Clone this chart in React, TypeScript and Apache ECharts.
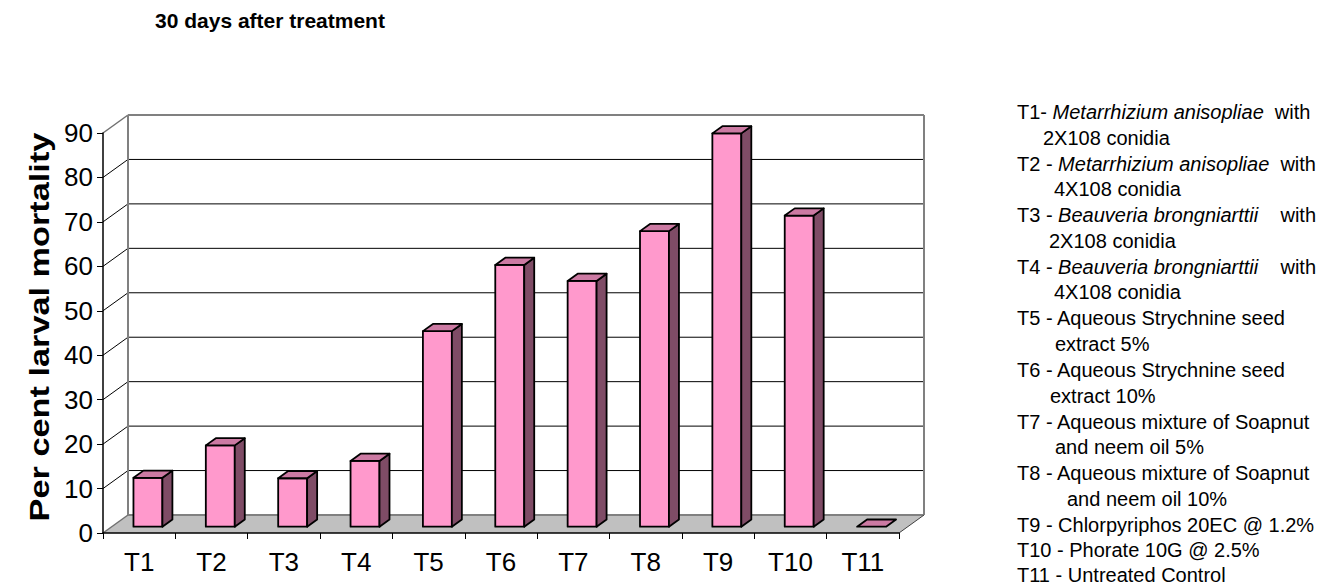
import React, { useEffect, useRef } from "react";
import * as echarts from "echarts";

// Treatments and per cent larval mortality 30 days after treatment
const categories = ["T1", "T2", "T3", "T4", "T5", "T6", "T7", "T8", "T9", "T10", "T11"];
const mortality = [11.0, 18.3, 10.9, 14.8, 44.0, 58.9, 55.3, 66.5, 88.5, 70.0, 0];

const chartTitle = "30 days after treatment";
const yAxisTitle = "Per cent larval mortality";

// Treatment key; {i|...} marks the italic species names
const keyLines = [
  "T1- {i|Metarrhizium anisopliae}  with",
  "2X108 conidia",
  "T2 - {i|Metarrhizium anisopliae}  with",
  "4X108 conidia",
  "T3 - {i|Beauveria brongniarttii}    with",
  "2X108 conidia",
  "T4 - {i|Beauveria brongniarttii}    with",
  "4X108 conidia",
  "T5 - Aqueous Strychnine seed",
  "extract 5%",
  "T6 - Aqueous Strychnine seed",
  "extract 10%",
  "T7 - Aqueous mixture of Soapnut",
  "and neem oil 5%",
  "T8 - Aqueous mixture of Soapnut",
  "and neem oil 10%",
  "T9 - Chlorpyriphos 20EC @ 1.2%",
  "T10 - Phorate 10G @ 2.5%",
  "T11 - Untreated Control",
];

// Layout of the key: left edge and vertical middle of each line
const keyX = [1017, 1043, 1017, 1054, 1017, 1049, 1017, 1054, 1017, 1055, 1017, 1050, 1017, 1055, 1017, 1067, 1017, 1017, 1017];
const keyY = [112, 138, 164, 189, 215, 241, 267, 292, 318, 344, 370, 396, 422, 447, 473, 499, 525, 550, 575];

// Pseudo-3D geometry
const DEPTH_X = 25;
const DEPTH_Y = -18;
const BAR_FRONT = 0.35; // bar front face position along the depth
const BAR_DEPTH = 0.4; // bar thickness along the depth
const BAR_WIDTH = 0.4; // share of the category band

const FONT = "Liberation Sans, Arial, Helvetica, sans-serif";

export default function App() {
  const ref = useRef<HTMLDivElement | null>(null);

  useEffect(() => {
    if (!ref.current) return;
    const chart = echarts.init(ref.current, undefined, { renderer: "svg" });
    const n = categories.length;
    const yMax = 90;
    const yStep = 10;

    const wallItem = (params: any, api: any) => {
      const band = api.size([1, 0])[0];
      const c0 = api.coord([0, 0]);
      const x0 = c0[0] - band / 2;
      const x1 = x0 + band * n;
      const y0 = c0[1];
      const yTop = api.coord([0, yMax])[1];
      const children: any[] = [];
      children.push({
        type: "polygon",
        shape: {
          points: [
            [x0, y0],
            [x1, y0],
            [x1 + DEPTH_X, y0 + DEPTH_Y],
            [x0 + DEPTH_X, y0 + DEPTH_Y],
          ],
        },
        style: { fill: "#c0c0c0", stroke: "none" },
      });
      for (let v = 0; v <= yMax; v += yStep) {
        const y = api.coord([0, v])[1];
        const edge = v === 0 || v === yMax;
        children.push({
          type: "line",
          shape: { x1: x0, y1: y, x2: x0 + DEPTH_X, y2: y + DEPTH_Y },
          style: { stroke: edge ? "#707070" : "#000", lineWidth: edge ? 1.5 : 1 },
        });
        children.push({
          type: "line",
          shape: { x1: x0 + DEPTH_X, y1: y + DEPTH_Y, x2: x1 + DEPTH_X, y2: y + DEPTH_Y },
          style: { stroke: edge ? "#808080" : "#000", lineWidth: edge ? 2 : 1 },
        });
      }
      children.push({
        type: "line",
        shape: { x1: x0 + DEPTH_X, y1: y0 + DEPTH_Y, x2: x0 + DEPTH_X, y2: yTop + DEPTH_Y },
        style: { stroke: "#808080", lineWidth: 2 },
      });
      children.push({
        type: "line",
        shape: { x1: x1 + DEPTH_X, y1: y0 + DEPTH_Y, x2: x1 + DEPTH_X, y2: yTop + DEPTH_Y },
        style: { stroke: "#808080", lineWidth: 2 },
      });
      children.push({
        type: "line",
        shape: { x1: x1, y1: y0, x2: x1 + DEPTH_X, y2: y0 + DEPTH_Y },
        style: { stroke: "#404040", lineWidth: 1 },
      });
      return { type: "group", children };
    };

    const barItem = (params: any, api: any) => {
      const idx = api.value(0);
      const val = api.value(1);
      const band = api.size([1, 0])[0];
      const top = api.coord([idx, val]);
      const base = api.coord([idx, 0]);
      const w = band * BAR_WIDTH;
      const ox = DEPTH_X * BAR_FRONT;
      const oy = DEPTH_Y * BAR_FRONT;
      const bx = DEPTH_X * BAR_DEPTH;
      const by = DEPTH_Y * BAR_DEPTH;
      const l = top[0] - w / 2 + ox;
      const r = l + w;
      const t = top[1] + oy;
      const b = base[1] + oy;
      const stroke = { stroke: "#000", lineWidth: 1.8, lineJoin: "round" };
      const children: any[] = [];
      if (b - t > 0.5) {
        children.push({
          type: "polygon",
          shape: { points: [[l, t], [r, t], [r, b], [l, b]] },
          style: { fill: "#ff99cc", ...stroke },
        });
        children.push({
          type: "polygon",
          shape: { points: [[r, t], [r + bx, t + by], [r + bx, b + by], [r, b]] },
          style: { fill: "#7f4c66", ...stroke },
        });
      }
      children.push({
        type: "polygon",
        shape: { points: [[l, t], [l + bx, t + by], [r + bx, t + by], [r, t]] },
        style: { fill: "#cc7aa3", ...stroke },
      });
      return { type: "group", children };
    };

    const keyGraphics = keyLines.map((line, i) => ({
      type: "text",
      x: keyX[i],
      y: keyY[i],
      style: {
        text: line,
        fill: "#000",
        font: `20px ${FONT}`,
        verticalAlign: "middle",
        align: "left",
        rich: {
          i: { fontStyle: "italic", fontSize: 20, fontFamily: FONT, fill: "#000" },
        },
      },
    }));

    chart.setOption({
      animation: false,
      backgroundColor: "#fff",
      grid: { left: 103, top: 133, width: 796, height: 400, containLabel: false },
      xAxis: {
        type: "category",
        data: categories,
        boundaryGap: true,
        z: 10,
        axisLine: { show: true, lineStyle: { color: "#000", width: 1.5 } },
        axisTick: { show: true, length: 6, lineStyle: { color: "#000" } },
        axisLabel: { fontSize: 26, fontFamily: FONT, color: "#000", margin: 16 },
        splitLine: { show: false },
      },
      yAxis: {
        type: "value",
        min: 0,
        max: 90,
        interval: 10,
        z: 10,
        axisLine: { show: true, lineStyle: { color: "#000", width: 1.5 } },
        axisTick: { show: true, length: 6, lineStyle: { color: "#000" } },
        axisLabel: { fontSize: 26, fontFamily: FONT, color: "#000", margin: 10 },
        splitLine: { show: false },
      },
      graphic: [
        {
          type: "text",
          x: 155,
          y: 20,
          style: {
            text: chartTitle,
            font: `bold 21px ${FONT}`,
            fill: "#000",
            verticalAlign: "middle",
          },
        },
        {
          type: "text",
          x: 40,
          y: 327,
          rotation: Math.PI / 2,
          scaleX: 1.27,
          style: {
            text: yAxisTitle,
            font: `bold 27px ${FONT}`,
            fill: "#000",
            align: "center",
            verticalAlign: "middle",
          },
        },
        ...keyGraphics,
      ],
      series: [
        {
          type: "custom",
          z: 1,
          clip: false,
          silent: true,
          data: [[0, 0]],
          renderItem: wallItem,
        },
        {
          type: "custom",
          z: 5,
          clip: false,
          data: mortality.map((v, i) => [i, v]),
          renderItem: barItem,
        },
      ],
    });

    return () => chart.dispose();
  }, []);

  return (
    <div
      ref={ref}
      style={{ position: "absolute", left: 0, top: 0, width: 1326, height: 587 }}
    />
  );
}
